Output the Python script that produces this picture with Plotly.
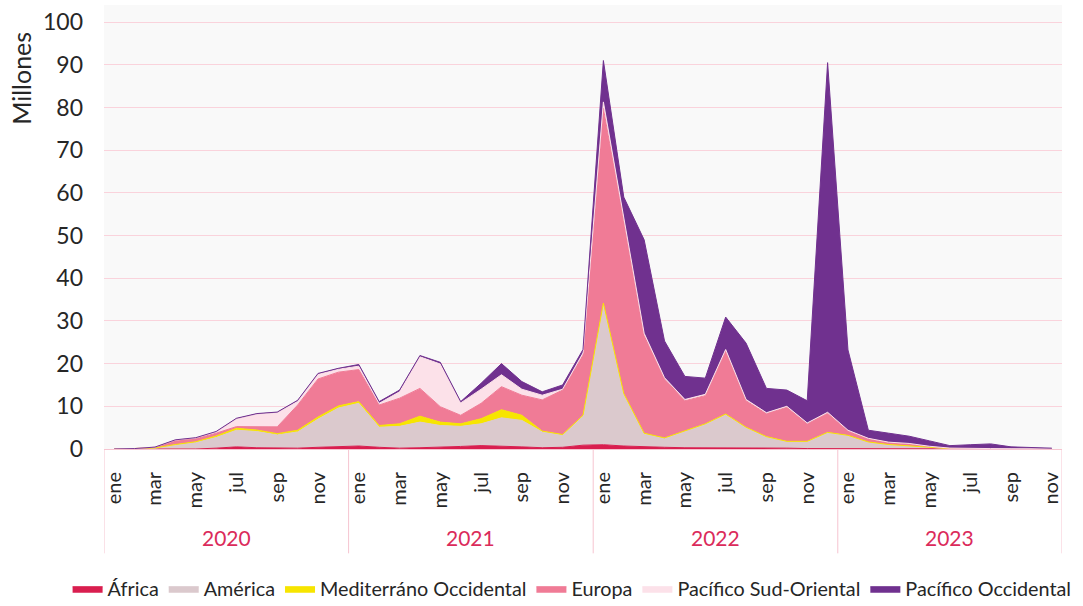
import plotly.graph_objects as go

# ---- data (millions), monthly Jan-2020 .. Nov-2023 ----
month_idx = list(range(47))
tick_idx = list(range(0, 47, 2))
tick_text = ["ene", "mar", "may", "jul", "sep", "nov"] * 4
years = ["2020", "2021", "2022", "2023"]
year_centers = [5.5, 17.5, 29.5, 41.0]
year_bounds = [-0.5, 11.5, 23.5, 35.5, 46.5]

series_names = ["África", "América", "Mediterráno Occidental", "Europa",
                "Pacífico Sud-Oriental", "Pacífico Occidental"]

africa = [0, 0, 0, 0, 0, 0.2, 0.5, 0.3, 0.2, 0.2, 0.4, 0.6,
          0.7, 0.4, 0.2, 0.3, 0.4, 0.6, 0.8, 0.7, 0.5, 0.3, 0.4, 0.9,
          1.0, 0.7, 0.5, 0.4, 0.3, 0.3, 0.3, 0.2, 0.2, 0.2, 0.1, 0.1,
          0.1, 0.1, 0.05, 0.05, 0, 0, 0, 0, 0, 0, 0]
america = [0, 0.05, 0.2, 0.9, 1.5, 2.5, 3.9, 3.8, 3.1, 3.8, 6.6, 9.0,
           10.0, 4.7, 5.1, 6.0, 5.1, 4.7, 5.1, 6.6, 6.2, 3.7, 2.8, 6.8,
           32.9, 12.0, 3.0, 2.1, 3.9, 5.5, 7.7, 4.8, 2.6, 1.5, 1.6, 3.7,
           3.0, 1.5, 0.95, 0.65, 0.3, 0.1, 0.05, 0.05, 0.02, 0.02, 0.01]
mediterraneo = [0, 0, 0.05, 0.15, 0.2, 0.35, 0.45, 0.35, 0.3, 0.4, 0.5, 0.5,
                0.4, 0.4, 0.6, 1.4, 0.8, 0.6, 1.2, 1.9, 1.2, 0.2, 0.2, 0.2,
                0.3, 0.3, 0.2, 0.1, 0.1, 0.1, 0.2, 0.1, 0.1, 0.1, 0.1, 0.1,
                0.1, 0.05, 0.05, 0.05, 0.02, 0, 0, 0, 0, 0, 0]
europa = [0, 0.05, 0.15, 0.95, 0.7, 0.65, 0.4, 0.8, 1.6, 5.9, 8.9, 7.9,
          7.5, 4.8, 6.0, 6.5, 3.6, 2.0, 3.6, 5.4, 4.7, 7.3, 10.4, 14.1,
          45.6, 40.5, 22.9, 13.8, 7.0, 6.6, 14.8, 6.2, 5.4, 8.0, 4.1, 4.5,
          1.1, 0.8, 0.5, 0.5, 0.3, 0.1, 0.05, 0.05, 0.05, 0.05, 0.03]
pacifico_so = [0, 0, 0.05, 0.1, 0.2, 0.3, 1.8, 2.9, 3.3, 0.9, 1.1, 0.7,
               0.8, 0.4, 1.5, 7.4, 10.0, 2.9, 3.3, 2.8, 1.4, 1.1, 0.2, 0.5,
               1.5, 1.0, 0.5, 0.3, 0.3, 0.3, 0.3, 0.3, 0.2, 0.2, 0.2, 0.2,
               0.1, 0.05, 0.05, 0.05, 0.02, 0.01, 0, 0, 0, 0, 0]
pacifico_occ = [0, 0, 0, 0.05, 0.05, 0.1, 0.15, 0.15, 0.15, 0.2, 0.2, 0.2,
                0.4, 0.4, 0.4, 0.3, 0.4, 0.3, 1.4, 2.6, 1.8, 0.8, 1.0, 0.8,
                9.7, 4.5, 21.9, 8.6, 5.4, 3.8, 7.6, 13.2, 5.7, 3.8, 5.2, 81.9,
                18.8, 1.9, 2.1, 1.7, 1.26, 0.58, 0.9, 1.1, 0.43, 0.35, 0.16]

colors = ["#D91E4F", "#DBC9CD", "#F7E500", "#F07B96", "#FCE1E9", "#70318F"]
values = [africa, america, mediterraneo, europa, pacifico_so, pacifico_occ]

FONT = "Lato"
TEXT = "#262626"
PINK_LINE = "#F6C4D0"

fig = go.Figure()
for name, vals, col in zip(series_names, values, colors):
    fig.add_trace(go.Scatter(
        x=month_idx, y=vals, name=name, mode="lines",
        stackgroup="one", line=dict(color=col, width=1),
        fillcolor=col,
    ))

# year separators and labels under the axis
for b in year_bounds:
    fig.add_shape(type="line", xref="x", yref="paper", x0=b, x1=b,
                  y0=0, y1=-0.235, line=dict(color=PINK_LINE, width=1))
for yr, c in zip(years, year_centers):
    fig.add_annotation(x=c, y=-0.200, xref="x", yref="paper", text=yr,
                       showarrow=False, font=dict(family=FONT, size=21, color="#DB2B5B"),
                       xanchor="center", yanchor="middle")

fig.add_annotation(x=-0.086, y=0.835, xref="paper", yref="paper", text="Millones",
                   textangle=-90, showarrow=False, xanchor="center", yanchor="middle",
                   font=dict(family=FONT, size=25, color=TEXT))

fig.update_layout(
    width=1083, height=606,
    margin=dict(l=104, r=21, t=5, b=157, autoexpand=False),
    paper_bgcolor="white", plot_bgcolor="#F9F9F9",
    font=dict(family=FONT, size=21, color=TEXT),
    showlegend=True,
    legend=dict(orientation="h", x=-0.038, xanchor="left",
                y=-0.315, yanchor="middle",
                traceorder="normal", font=dict(family=FONT, size=19.8, color=TEXT),
                itemwidth=30, tracegroupgap=0, bgcolor="rgba(0,0,0,0)"),
    xaxis=dict(range=[-0.5, 46.5], tickmode="array", tickvals=tick_idx, ticktext=tick_text,
               tickangle=-90, showgrid=False, zeroline=False, showline=True,
               linecolor=PINK_LINE, linewidth=1, ticks="", ticklabelstandoff=14,
               tickfont=dict(family=FONT, size=20, color=TEXT)),
    yaxis=dict(range=[0, 104], tickmode="array", tickvals=list(range(0, 101, 10)),
               showgrid=True, gridcolor="#FAD3DC", gridwidth=1, zeroline=False,
               showline=False, ticks="", ticklabelstandoff=20,
               tickfont=dict(family=FONT, size=23, color=TEXT)),
)

fig.write_html("out.html", config={"displayModeBar": False},
               post_script="document.body.style.margin='0';")
